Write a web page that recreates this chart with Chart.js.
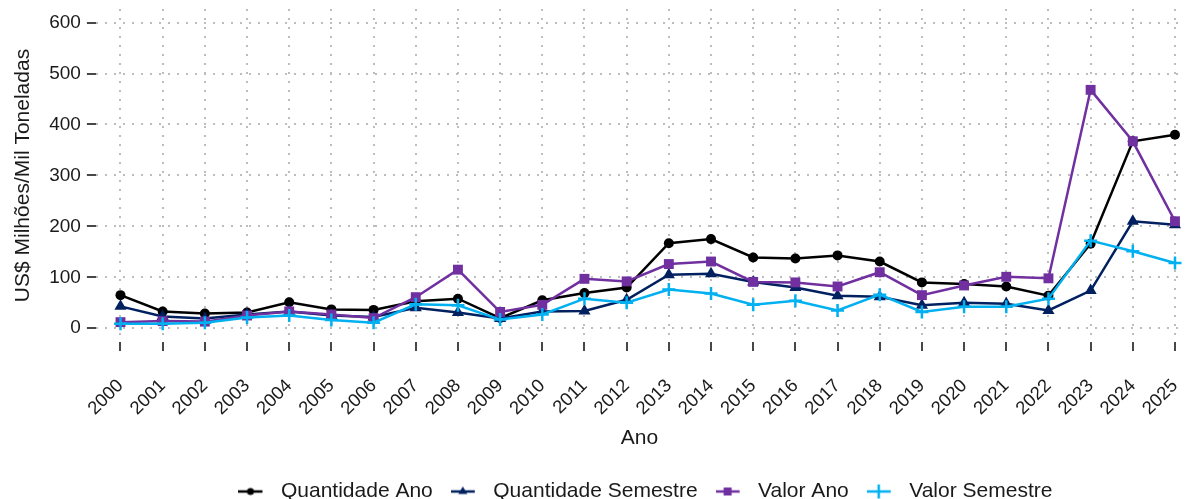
<!DOCTYPE html>
<html>
<head>
<meta charset="utf-8">
<script src="https://cdn.jsdelivr.net/npm/chart.js@4/dist/chart.umd.min.js"></script>
<style>
  html, body { margin: 0; padding: 0; background: #fff; }
  #wrap { width: 1192px; height: 499px; }
</style>
</head>
<body>
<div id="wrap"><canvas id="chart"></canvas></div>
<script>
const years = [2000, 2001, 2002, 2003, 2004, 2005, 2006, 2007, 2008, 2009, 2010, 2011, 2012,
  2013, 2014, 2015, 2016, 2017, 2018, 2019, 2020, 2021, 2022, 2023, 2024, 2025];

const yTicks = [0, 100, 200, 300, 400, 500, 600];

const seriesNames = ["Quantidade Ano", "Quantidade Semestre", "Valor Ano", "Valor Semestre"];

const quantidadeAno = [65, 33, 29, 31, 51, 37, 36, 53, 58, 20, 55, 69, 80,
  167, 175, 139, 137, 143, 131, 90, 87, 82, 64, 166, 367, 380];

const quantidadeSemestre = [43, 23, 19, 27, 33, 25, 22, 40, 31, 19, 33, 34, 56,
  105, 107, 91, 80, 64, 62, 45, 50, 48, 35, 74, 210, 203];

const valorAno = [12, 14, 13, 25, 33, 27, 20, 61, 115, 32, 46, 97, 92,
  126, 131, 91, 90, 82, 110, 65, 84, 101, 98, 468, 367, 210];

const valorSemestre = [9, 9, 11, 21, 25, 16, 11, 47, 45, 17, 27, 58, 50,
  76, 68, 46, 54, 35, 66, 32, 42, 42, 58, 172, 151, 128];

const colors = ["#000000", "#002060", "#7030a0", "#00b0f0"];
const markers = ["circle", "triangle", "rect", "cross"];
const markerSizes = [5, 7, 7, 6.5];

const FONT = "'Liberation Sans', Arial, sans-serif";
const TEXT = "#1a1a1a";

function toPoints(values) {
  return values.map((v, i) => ({ x: years[i], y: v }));
}

// small canvas with line + marker, used as legend key
function legendKey(color, marker) {
  const c = document.createElement("canvas");
  c.width = 32;
  c.height = 18;
  const ctx = c.getContext("2d");
  const cx = 12;
  ctx.strokeStyle = color;
  ctx.fillStyle = color;
  ctx.lineWidth = 2.5;
  ctx.beginPath();
  ctx.moveTo(0, 9);
  ctx.lineTo(24, 9);
  ctx.stroke();
  if (marker === "circle") {
    ctx.beginPath();
    ctx.arc(cx, 9, 3.5, 0, Math.PI * 2);
    ctx.fill();
  } else if (marker === "triangle") {
    ctx.beginPath();
    ctx.moveTo(cx, 4);
    ctx.lineTo(cx + 4.5, 11.5);
    ctx.lineTo(cx - 4.5, 11.5);
    ctx.closePath();
    ctx.fill();
  } else if (marker === "rect") {
    ctx.fillRect(cx - 4, 5, 8, 8);
  } else {
    ctx.beginPath();
    ctx.moveTo(cx, 2);
    ctx.lineTo(cx, 16);
    ctx.stroke();
  }
  return c;
}

const allSeries = [quantidadeAno, quantidadeSemestre, valorAno, valorSemestre];

const datasets = allSeries.map((values, i) => ({
  label: seriesNames[i],
  data: toPoints(values),
  borderColor: colors[i],
  backgroundColor: colors[i],
  borderWidth: 2.5,
  pointStyle: markers[i],
  pointRadius: markerSizes[i],
  pointHoverRadius: markerSizes[i],
  pointBorderWidth: markers[i] === "cross" ? 2.5 : 0,
  tension: 0,
  fill: false,
  order: allSeries.length - i
}));

const gridDots = {
  color: "#bdbdbd",
  lineWidth: 2,
  tickLength: 9,
  tickColor: "#333333",
  tickWidth: 1.8
};

// drop the extra room chart.js keeps for the outer tick labels
function noLabelPadding(axis) {
  axis.paddingLeft = 0;
  axis.paddingRight = 0;
  axis.paddingTop = 0;
  axis.paddingBottom = 0;
}

// center the legend under the plot area instead of the whole canvas
const legendUnderPlot = {
  id: "legendUnderPlot",
  afterLayout(chart) {
    const legend = chart.legend;
    const area = chart.chartArea;
    const shift = (area.left + area.right) / 2 - (legend.left + legend.right) / 2 + 6;
    legend.left += shift;
    legend.right += shift;
  }
};

new Chart(document.getElementById("chart"), {
  type: "line",
  data: { datasets },
  plugins: [legendUnderPlot],
  options: {
    responsive: true,
    maintainAspectRatio: false,
    animation: false,
    layout: {
      padding: { top: 0.5, right: 2, left: 2, bottom: -13 }
    },
    plugins: {
      tooltip: { enabled: false },
      legend: {
        position: "bottom",
        labels: {
          usePointStyle: true,
          pointStyleWidth: 32,
          color: TEXT,
          font: { family: FONT, size: 21 },
          padding: 18,
          generateLabels: chart => chart.data.datasets.map((ds, i) => ({
            text: ds.label,
            pointStyle: legendKey(colors[i], markers[i]),
            fillStyle: colors[i],
            strokeStyle: colors[i],
            lineWidth: 0,
            fontColor: TEXT,
            hidden: false,
            datasetIndex: i
          }))
        }
      }
    },
    scales: {
      x: {
        type: "linear",
        min: 1999.417,
        max: 2025.19,
        afterBuildTicks: axis => {
          axis.ticks = years.map(v => ({ value: v }));
        },
        afterFit: noLabelPadding,
        border: { display: false, dash: [2, 7] },
        grid: gridDots,
        ticks: {
          autoSkip: false,
          minRotation: 45,
          maxRotation: 45,
          padding: 24,
          color: TEXT,
          font: { family: FONT, size: 18.5 },
          callback: value => String(value)
        },
        title: {
          display: true,
          text: "Ano",
          color: TEXT,
          font: { family: FONT, size: 21 },
          padding: { top: -18, bottom: 12 }
        }
      },
      y: {
        min: -27,
        max: 626.7,
        afterBuildTicks: axis => {
          axis.ticks = yTicks.map(v => ({ value: v }));
        },
        afterFit: noLabelPadding,
        border: { display: false, dash: [2, 7] },
        grid: gridDots,
        ticks: {
          padding: 6,
          color: TEXT,
          font: { family: FONT, size: 19 },
          callback: value => String(value)
        },
        title: {
          display: true,
          text: "US$ Milhões/Mil Toneladas",
          color: TEXT,
          font: { family: FONT, size: 21 },
          padding: { top: 9, bottom: 7 }
        }
      }
    }
  }
});
</script>
</body>
</html>
